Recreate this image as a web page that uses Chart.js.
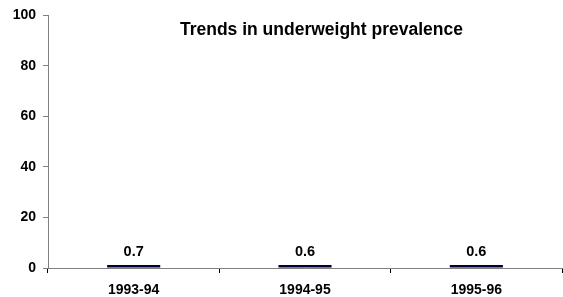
<!DOCTYPE html>
<html>
<head>
<meta charset="utf-8">
<script src="https://cdn.jsdelivr.net/npm/chart.js@4"></script>
<style>
  html, body { margin: 0; padding: 0; background: #fff; }
  #wrap { width: 563px; height: 297px; position: relative; }
</style>
</head>
<body>
<div id="wrap"><canvas id="trendChart"></canvas></div>
<script>
// Chart data
const periods = ["1993-94", "1994-95", "1995-96"];
const underweight = [0.7, 0.6, 0.6];
const yTicks = [0, 20, 40, 60, 80, 100];
const chartTitle = "Trends in underweight prevalence";

const FONT = "Arial, 'Liberation Sans', sans-serif";

// value labels above each bar
const valueLabels = {
  id: "valueLabels",
  afterDatasetsDraw(chart) {
    const { ctx } = chart;
    ctx.save();
    ctx.font = "bold 14.5px " + FONT;
    ctx.fillStyle = "#000";
    ctx.textAlign = "center";
    ctx.textBaseline = "alphabetic";
    chart.getDatasetMeta(0).data.forEach((bar, i) => {
      ctx.fillText(underweight[i].toFixed(1), bar.x, bar.y - 9);
    });
    ctx.restore();
  }
};

// title sits inside the plot area
const innerTitle = {
  id: "innerTitle",
  afterDraw(chart) {
    const { ctx, chartArea } = chart;
    ctx.save();
    ctx.font = "bold 17.5px " + FONT;
    ctx.fillStyle = "#000";
    ctx.textAlign = "center";
    ctx.textBaseline = "alphabetic";
    ctx.fillText(chartTitle, chartArea.left + (chartArea.right - chartArea.left) * 0.532, chartArea.top + 20);
    ctx.restore();
  }
};

const ctx = document.getElementById("trendChart");
const chart = new Chart(ctx, {
  type: "bar",
  data: {
    labels: periods,
    datasets: [{
      data: underweight,
      backgroundColor: "#000033",
      borderWidth: 0,
      categoryPercentage: 1,
      barPercentage: 0.31,
      minBarLength: 3
    }]
  },
  options: {
    responsive: true,
    maintainAspectRatio: false,
    animation: false,
    layout: { padding: { top: 15, right: 1, left: 0, bottom: 0 } },
    plugins: { legend: { display: false }, tooltip: { enabled: false } },
    scales: {
      x: {
        grid: { display: true, drawOnChartArea: false, offset: true, color: "#808080", tickLength: 5, tickColor: "#000" },
        border: { color: "#808080", width: 1 },
        ticks: { color: "#000", font: { family: FONT, size: 14, weight: "bold" }, padding: 9, maxRotation: 0 },
        afterFit(scale) { scale.height = 29; }
      },
      y: {
        min: 0,
        max: 100,
        afterBuildTicks(scale) { scale.ticks = yTicks.map(v => ({ value: v })); },
        grid: { display: true, drawOnChartArea: false, color: "#808080", tickLength: 5 },
        border: { color: "#808080", width: 1 },
        ticks: { color: "#000", font: { family: FONT, size: 14, weight: "bold" }, padding: 7 },
        afterFit(scale) { scale.width = 48; }
      }
    }
  },
  plugins: [valueLabels, innerTitle]
});
</script>
</body>
</html>
